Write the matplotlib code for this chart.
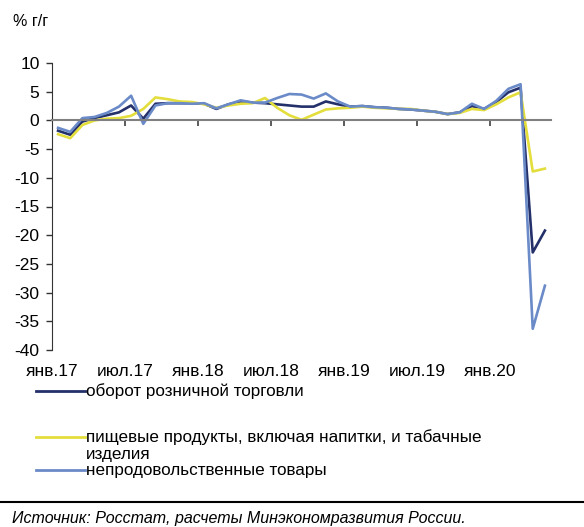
import numpy as np
import matplotlib
matplotlib.use('Agg')
import matplotlib.pyplot as plt
from matplotlib.lines import Line2D

plt.rcParams['font.family'] = ['Liberation Sans', 'DejaVu Sans']
plt.rcParams['axes.unicode_minus'] = False

# months jan.17 .. may.20, % y/y
months = np.arange(41)
tick_labels = ['янв.17', 'июл.17', 'янв.18', 'июл.18', 'янв.19', 'июл.19', 'янв.20']

retail = [-1.8, -2.5, -0.2, 0.4, 0.9, 1.4, 2.6, 0.3, 2.9, 3.0,
          3.0, 3.0, 2.9, 2.0, 2.8, 3.3, 3.1, 3.0, 2.8, 2.6,
          2.4, 2.4, 3.3, 2.8, 2.4, 2.5, 2.3, 2.2, 2.0, 1.9,
          1.7, 1.5, 1.1, 1.4, 2.5, 2.0, 3.2, 4.9, 5.7, -23.0, -19.2]
food = [-2.4, -3.1, -0.8, 0.0, 0.3, 0.4, 0.8, 2.0, 4.0, 3.7,
        3.3, 3.2, 2.8, 2.2, 2.6, 2.9, 3.0, 3.9, 2.2, 0.9,
        0.1, 1.0, 1.9, 2.1, 2.2, 2.4, 2.2, 2.1, 2.0, 2.0,
        1.7, 1.5, 1.1, 1.3, 2.0, 1.8, 2.8, 4.0, 4.9, -8.9, -8.4]
nonfood = [-1.3, -2.0, 0.4, 0.6, 1.3, 2.4, 4.3, -0.6, 2.6, 3.0,
           3.0, 2.9, 3.0, 2.1, 2.8, 3.5, 3.1, 3.1, 3.9, 4.6,
           4.5, 3.8, 4.7, 3.3, 2.4, 2.5, 2.3, 2.2, 2.0, 1.9,
           1.7, 1.5, 1.1, 1.4, 2.9, 2.0, 3.4, 5.5, 6.3, -36.3, -28.8]

# legend texts, one list per entry (wrapped lines kept apart)
names = [['оборот розничной торговли'],
         ['пищевые продукты, включая напитки, и табачные', 'изделия'],
         ['непродовольственные товары']]
colors = ['#24306a', '#e3de3c', '#6a8ac8']

fig = plt.figure(figsize=(5.84, 5.27), dpi=100)
ax = fig.add_axes([52/584, 1-350/527, (551-52)/584, (350-63)/527])

for ser, c in zip([retail, food, nonfood], colors):
    ax.plot(months, ser, color=c, lw=1.9, solid_joinstyle='round')

ax.set_xlim(-0.5, 40.5)
ax.set_ylim(-40, 10)
ax.set_yticks(np.arange(-40, 11, 5))
ax.tick_params(axis='y', length=4, width=1, color='#333333', pad=5, labelsize=12.5)

ax.spines['top'].set_visible(False)
ax.spines['right'].set_visible(False)
ax.spines['left'].set_color('#333333')
ax.spines['bottom'].set_position(('data', 0))
ax.spines['bottom'].set_color('#808080')
ax.spines['bottom'].set_linewidth(1.5)
ax.set_xticks(np.arange(-0.5, 41, 6)[1:])
ax.tick_params(axis='x', length=4, width=1.2, color='#404040', labelbottom=False)

sec = ax.secondary_xaxis('bottom')
sec.set_xticks(np.arange(-0.5, 41, 6), tick_labels)
sec.tick_params(length=0, pad=10, labelsize=12.5)
sec.spines['bottom'].set_visible(False)

fig.text(13/584, 1-22/527, '% г/г', fontsize=11.5, va='center', ha='left')

# legend, drawn by hand to keep the Excel spacing
leg_y = [391, 437, 470]
for lines, c, y in zip(names, colors, leg_y):
    fig.add_artist(Line2D([36/584, 85/584], [1-y/527, 1-y/527], color=c, lw=2))
    for k, s in enumerate(lines):
        fig.text(86/584, 1-(y+17*k)/527, s, fontsize=12.3, ha='left', va='center')

fig.add_artist(Line2D([0, 1], [1-502/527, 1-502/527], color='black', lw=1.5))
fig.text(12/584, 1-518/527, 'Источник: Росстат, расчеты Минэкономразвития России.',
         fontsize=11.5, style='italic', ha='left', va='center')

fig.savefig('out.png', dpi=100)
